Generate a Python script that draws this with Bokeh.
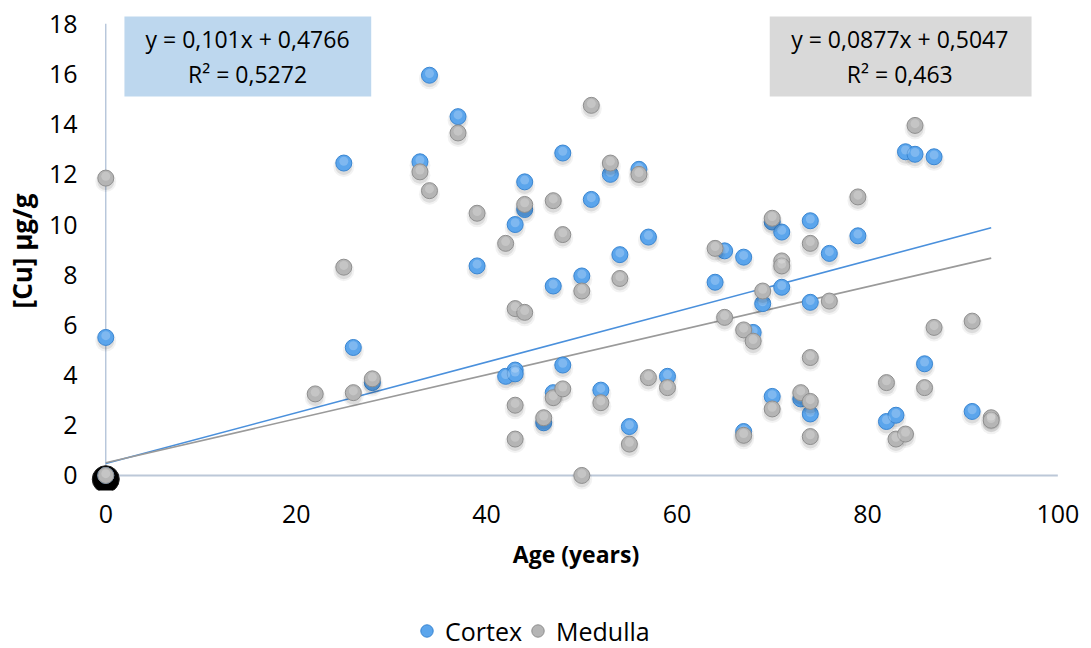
from bokeh.plotting import figure
from bokeh.layouts import column
from bokeh.models import (ColumnDataSource, FixedTicker, Legend, LegendItem,
                          BoxAnnotation, Label, Range1d)
from bokeh.embed import file_html
from bokeh.resources import INLINE

# Copper concentration by age, renal cortex
cortex_age = [0, 0, 25, 26, 28, 33, 34, 37, 39, 42, 43, 43, 43, 44, 44, 46, 47, 47,
              48, 48, 50, 51, 52, 53, 54, 55, 56, 57, 59, 64, 65, 67, 67, 68, 69,
              70, 70, 71, 71, 73, 74, 74, 74, 76, 79, 82, 83, 84, 85, 86, 87, 91]
cortex_cu = [5.5, 0.0, 12.45, 5.1, 3.7, 12.5, 15.95, 14.3, 8.35, 3.95, 10.0, 4.2,
             4.05, 11.7, 10.6, 2.1, 7.55, 3.3, 12.85, 4.4, 7.95, 11.0, 3.4, 12.0,
             8.8, 1.95, 12.2, 9.5, 3.95, 7.7, 8.95, 8.7, 1.75, 5.7, 6.85, 3.15,
             10.1, 9.7, 7.5, 3.05, 10.15, 6.9, 2.45, 8.85, 9.55, 2.15, 2.4, 12.9,
             12.8, 4.45, 12.7, 2.55]

# Copper concentration by age, renal medulla
medulla_age = [0, 0, 22, 25, 26, 28, 33, 34, 37, 39, 42, 43, 43, 43, 44, 44, 46, 47,
               47, 48, 48, 50, 50, 51, 52, 53, 54, 55, 56, 57, 59, 64, 65, 67, 67,
               68, 69, 70, 70, 71, 71, 73, 74, 74, 74, 74, 76, 79, 82, 83, 84, 85,
               86, 87, 91, 93, 93]
medulla_cu = [11.85, 0.0, 3.25, 8.3, 3.3, 3.85, 12.1, 11.35, 13.65, 10.45, 9.25,
              6.65, 2.8, 1.45, 10.8, 6.5, 2.3, 10.95, 3.1, 9.6, 3.45, 7.35, 0.0,
              14.75, 2.9, 12.45, 7.85, 1.25, 12.0, 3.9, 3.5, 9.05, 6.3, 5.8, 1.6,
              5.35, 7.35, 10.25, 2.65, 8.55, 8.35, 3.3, 9.25, 4.7, 2.95, 1.55, 6.95,
              11.1, 3.7, 1.45, 1.65, 13.95, 3.5, 5.9, 6.15, 2.3, 2.2]

# dark marker sitting at the origin
origin_age = [0]
origin_cu = [0]

# linear trend lines (slope, intercept, R²)
cortex_fit = (0.101, 0.4766, 0.5272)
medulla_fit = (0.0877, 0.5047, 0.463)

x_ticks = [0, 20, 40, 60, 80, 100]
y_ticks = [0, 2, 4, 6, 8, 10, 12, 14, 16, 18]
x_label = "Age (years)"
y_label = "[Cu] µg/g"
series_names = ["Cortex", "Medulla"]

FONT = "Open Sans"
BLUE_FILL, BLUE_LINE = "#5BA5EC", "#3A86D2"
GREY_FILL, GREY_LINE = "#B5B5B5", "#8F8F8F"
AXIS_COLOR = "#BCC8D8"
W = 1091
MAIN_H, LEGEND_H = 600, 48


def fmt(v):
    return str(v).replace(".", ",")


p = figure(width=W, height=MAIN_H, output_backend="svg", toolbar_location=None,
           x_range=Range1d(-1.71, 100.49), y_range=Range1d(-0.6, 18.49),
           min_border_left=88, min_border_right=29, min_border_top=11,
           min_border_bottom=110, background_fill_color="white",
           border_fill_color="white", outline_line_color=None)
p.grid.visible = False

for ax in (p.xaxis[0], p.yaxis[0]):
    ax.axis_line_color = None
    ax.major_tick_line_color = None
    ax.minor_tick_line_color = None
    ax.major_tick_out = 0
    ax.major_tick_in = 0
    ax.major_label_text_font = FONT
    ax.major_label_text_font_size = "25px"
    ax.major_label_text_color = "black"
    ax.axis_label_text_font = FONT
    ax.axis_label_text_font_style = "bold"
    ax.axis_label_text_color = "black"

p.xaxis.ticker = FixedTicker(ticks=x_ticks)
p.yaxis.ticker = FixedTicker(ticks=y_ticks)
p.xaxis.axis_label = x_label
p.yaxis.axis_label = y_label
p.xaxis.axis_label_text_font_size = "23px"
p.yaxis.axis_label_text_font_size = "26px"
p.xaxis.major_label_standoff = 14
p.xaxis.axis_label_standoff = 12
p.yaxis.major_label_standoff = 12
p.yaxis.axis_label_standoff = 6

# axis lines through the origin
p.segment(x0=[0], y0=[0], x1=[x_ticks[-1]], y1=[0], line_color=AXIS_COLOR, line_width=2)
p.segment(x0=[0], y0=[0], x1=[0], y1=[y_ticks[-1]], line_color="#A9BBD3", line_width=1.2)

# trend-line equation boxes
p.add_layout(BoxAnnotation(left=1.96, right=27.88, bottom=15.1, top=18.29,
                           fill_color="#BDD7EE", fill_alpha=1, line_color=None, level="underlay"))
p.add_layout(BoxAnnotation(left=69.74, right=97.24, bottom=15.1, top=18.29,
                           fill_color="#D9D9D9", fill_alpha=1, line_color=None, level="underlay"))


def equation_labels(fit, xc):
    slope, icpt, r2 = fit
    for txt, yc in ((f"y = {fmt(slope)}x + {fmt(icpt)}", 17.4),
                    (f"R² = {fmt(r2)}", 16.0)):
        p.add_layout(Label(x=xc, y=yc, text=txt, text_align="center",
                           text_baseline="middle", text_font=FONT,
                           text_font_size="23px", text_color="black"))


equation_labels(cortex_fit, 14.89)
equation_labels(medulla_fit, 83.4)

# trend lines over the full observed age span
all_ages = cortex_age + medulla_age
span = [min(all_ages), max(all_ages)]
for fit, col in ((cortex_fit, "#4A90DC"), (medulla_fit, "#9A9A9A")):
    p.line(span, [fit[0] * x + fit[1] for x in span], line_color=col, line_width=1.6)

SHADOW_DY = 0.14
HILITE_DY = 0.07


def shadow(ages, cu):
    src = ColumnDataSource(dict(x=ages, y=[v - SHADOW_DY for v in cu]))
    p.scatter("x", "y", source=src, size=21, fill_color="black", fill_alpha=0.05, line_color=None)
    p.scatter("x", "y", source=src, size=17, fill_color="black", fill_alpha=0.09, line_color=None)


def marker(ages, cu, fill, line):
    r = p.scatter(ages, cu, size=16, fill_color=fill, line_color=line, line_width=1)
    p.scatter(ages, [v + HILITE_DY for v in cu], size=9, fill_color="white",
              fill_alpha=0.22, line_color=None)
    return r


# dark blob at the origin
p.scatter(origin_age, [v - 0.15 for v in origin_cu], size=27, fill_color="black",
          line_color="#222222")

shadow(cortex_age, cortex_cu)
r_cortex = marker(cortex_age, cortex_cu, BLUE_FILL, BLUE_LINE)
shadow(medulla_age, medulla_cu)
r_medulla = marker(medulla_age, medulla_cu, GREY_FILL, GREY_LINE)

# legend strip under the chart; its key glyphs sit outside the visible range
leg = figure(width=W, height=LEGEND_H, output_backend="svg", toolbar_location=None,
             x_range=Range1d(0, 1), y_range=Range1d(0, 1), min_border=0,
             outline_line_color=None, background_fill_color="white",
             border_fill_color="white")
leg.axis.visible = False
leg.grid.visible = False
offscreen = dict(x=[-10], y=[-10])
k_cortex = leg.scatter("x", "y", source=ColumnDataSource(offscreen), size=12,
                       fill_color=BLUE_FILL, line_color=BLUE_LINE)
k_medulla = leg.scatter("x", "y", source=ColumnDataSource(offscreen), size=12,
                        fill_color=GREY_FILL, line_color=GREY_LINE)
legend = Legend(items=[LegendItem(label=series_names[0], renderers=[k_cortex]),
                       LegendItem(label=series_names[1], renderers=[k_medulla])],
                orientation="horizontal", location=(322, 0.5),
                glyph_width=31, glyph_height=31, label_standoff=3, spacing=0,
                padding=0, margin=0, border_line_color=None,
                background_fill_alpha=0, label_text_font=FONT,
                label_text_font_size="25px", label_text_color="black")
leg.add_layout(legend, "center")

open("out.html", "w").write(file_html(column(p, leg, spacing=0), INLINE))
